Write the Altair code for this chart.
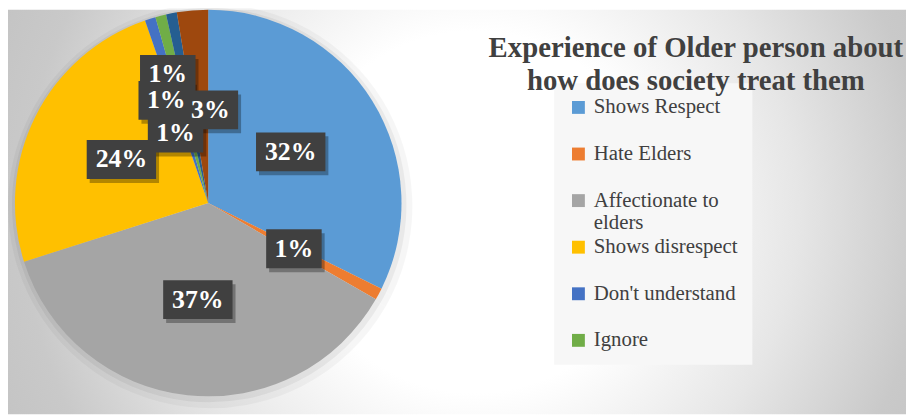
import altair as alt
import pandas as pd

# ---- data ----
categories = ["Shows Respect", "Hate Elders", "Affectionate to elders", "Shows disrespect",
              "Don't understand", "Ignore", "Other", "No response"]
values = [32.3, 1.0, 36.8, 24.6, 0.9, 0.9, 0.9, 2.6]
labels = ["32%", "1%", "37%", "24%", "1%", "1%", "1%", "3%"]
colors = ["#5B9BD5", "#ED7D31", "#A5A5A5", "#FFC000", "#4472C4", "#70AD47", "#255E91", "#9E480E"]
legend_entries = categories[:6]
title_lines = ["Experience of Older person about", "how does society treat them"]

df = pd.DataFrame({
    "category": categories,
    "value": values,
    "label": labels,
    "order": list(range(len(categories))),
})

SERIF = "Liberation Serif"
W, H = 906, 408
CX, CY, R = 202, 195, 195

gradient = {
    "gradient": "radial",
    "x1": 0.52, "y1": 0.5, "r1": 0,
    "x2": 0.52, "y2": 0.5, "r2": 0.72,
    "stops": [
        {"offset": 0.0, "color": "#ffffff"},
        {"offset": 0.28, "color": "#ffffff"},
        {"offset": 0.5, "color": "#e6e6e6"},
        {"offset": 0.7, "color": "#c9c9c9"},
        {"offset": 1.0, "color": "#b9b9b9"},
    ],
}

bg = alt.Chart(pd.DataFrame({"k": [0]})).mark_rect(fill=gradient, strokeWidth=0).encode(
    x=alt.value(0), x2=alt.value(W), y=alt.value(0), y2=alt.value(H)
)

base = alt.Chart(df)
theta = alt.Theta("value:Q", stack=True)

shadow1 = base.mark_arc(outerRadius=R + 9, color="#000000", opacity=0.035).encode(
    theta=theta, order=alt.Order("order:Q"), x=alt.value(CX + 2), y=alt.value(CY + 3)
)
shadow2 = base.mark_arc(outerRadius=R + 4, color="#000000", opacity=0.05).encode(
    theta=theta, order=alt.Order("order:Q"), x=alt.value(CX + 1), y=alt.value(CY + 2)
)

legend = alt.Legend(
    title=None,
    values=legend_entries,
    orient="none",
    legendX=551,
    legendY=74,
    padding=14,
    fillColor="#f7f7f7",
    symbolType="square",
    symbolSize=169,
    symbolStrokeWidth=0,
    labelFont=SERIF,
    labelFontSize=21,
    labelColor="#404040",
    labelOffset=5,
    labelLimit=400,
    gridAlign="all",
    rowPadding=2,
    labelExpr="datum.label == 'Affectionate to elders' ? ['Affectionate to', 'elders'] : datum.label",
)

pie = base.mark_arc(outerRadius=R, strokeWidth=0).encode(
    theta=theta,
    color=alt.Color("category:N", scale=alt.Scale(domain=categories, range=colors),
                    sort=categories, legend=legend),
    order=alt.Order("order:Q"),
    x=alt.value(CX),
    y=alt.value(CY),
)

lab = base.transform_window(
    cum="sum(value)", sort=[alt.SortField("order")], frame=[None, 0]
).transform_joinaggregate(
    total="sum(value)"
).transform_calculate(
    shift="datum.order == 7 ? 6 : (datum.order == 5 ? -8 : (datum.order == 6 ? -14 : 0))",
    r="datum.order < 4 ? 98 : (datum.order == 7 ? 94 : (datum.order == 4 ? 136 : (datum.order == 5 ? 112 : 78)))",
).transform_calculate(
    mid="2*PI*(datum.cum - datum.value/2)/datum.total + datum.shift*PI/180",
).transform_calculate(
    px=f"{CX} + datum.r*sin(datum.mid)",
    py=f"{CY} - datum.r*cos(datum.mid)",
)

box_short = "M-1,-0.7L1,-0.7L1,0.7L-1,0.7Z"
box_long = "M-1,-0.56L1,-0.56L1,0.56L-1,0.56Z"
is_long = "length(datum.label) > 2"
pos = dict(
    x=alt.X("px:Q", scale=None, axis=None),
    y=alt.Y("py:Q", scale=None, axis=None),
)

box_shadow = lab.mark_point(filled=True, color="#000000", opacity=0.3, strokeWidth=0,
                            xOffset=3, yOffset=4).encode(
    **pos,
    shape=alt.condition(is_long, alt.value(box_long), alt.value(box_short)),
    size=alt.condition(is_long, alt.value(4900), alt.value(3136)),
)
boxes = lab.mark_point(filled=True, color="#404040", opacity=1, strokeWidth=0).encode(
    **pos,
    shape=alt.condition(is_long, alt.value(box_long), alt.value(box_short)),
    size=alt.condition(is_long, alt.value(4900), alt.value(3136)),
)
texts = lab.mark_text(font=SERIF, fontWeight="bold", fontSize=26,
                      color="#ffffff").encode(**pos, text="label:N")

chart = alt.layer(bg, shadow1, shadow2, pie, box_shadow, boxes, texts).properties(
    width=W,
    height=H,
    padding=0,
    autosize="none",
    title=alt.TitleParams(
        text=title_lines,
        font=SERIF,
        fontSize=29,
        fontWeight="bold",
        color="#404040",
        anchor="middle",
        frame="group",
        baseline="alphabetic",
        lineHeight=33,
        offset=0,
        dx=241,
        dy=116,
    ),
).configure_view(stroke=None)

chart.save("out.html", embed_options={"renderer": "svg", "actions": False})
